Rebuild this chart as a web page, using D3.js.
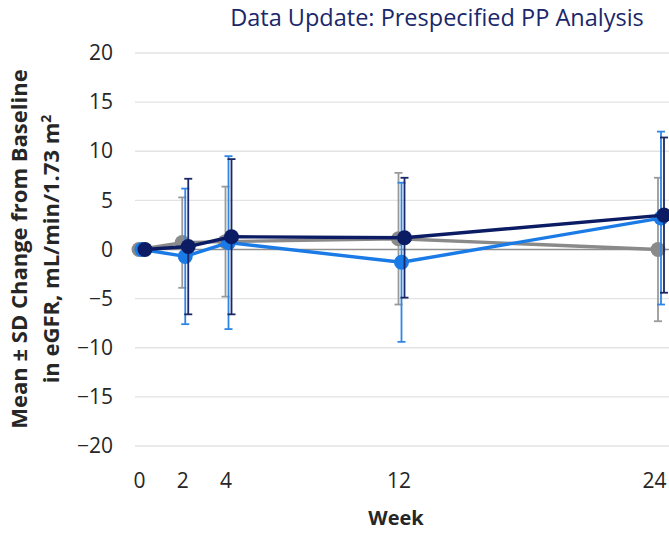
<!DOCTYPE html>
<html>
<head>
<meta charset="utf-8">
<script src="https://cdn.jsdelivr.net/npm/d3@7"></script>
<style>
  html, body { margin: 0; padding: 0; background: #fff; }
  svg { display: block; font-family: "Open Sans", "Noto Sans", sans-serif; }
</style>
</head>
<body>
<svg id="chart" width="669" height="533"></svg>
<script>
// Study weeks
const weeks = [0, 2, 4, 12, 24];
const yTicks = [-20, -15, -10, -5, 0, 5, 10, 15, 20];

// Mean change from baseline in eGFR, by group
const meanA = [0, 0.7, 0.8, 1.1, 0.0];
const sdA   = [0, 4.6, 5.6, 6.7, 7.3];

const meanB = [0, -0.7, 0.7, -1.3, 3.2];
const sdB   = [0, 6.9, 8.8, 8.1, 8.8];

const meanC = [0, 0.3, 1.3, 1.2, 3.5];
const sdC   = [0, 6.9, 7.9, 6.1, 7.9];

const groups = [
  { key: "A", mean: meanA, sd: sdA, line: "#8a8a8a", bar: "#9a9a9a", shift: 0 },
  { key: "B", mean: meanB, sd: sdB, line: "#1a7ae6", bar: "#2f86e6", shift: 3 },
  { key: "C", mean: meanC, sd: sdC, line: "#0b1c64", bar: "#1b2766", shift: 6 }
];

const svg = d3.select("#chart");

const x = d3.scaleLinear().domain([0, 24]).range([139, 658]);
const y = d3.scaleLinear().domain([-20, 20]).range([446, 53]);

// Horizontal gridlines
svg.append("g")
  .selectAll("line")
  .data(yTicks.filter(d => d !== 0))
  .join("line")
  .attr("x1", 135).attr("x2", 669)
  .attr("y1", d => y(d)).attr("y2", d => y(d))
  .attr("stroke", "#e3e3e3").attr("stroke-width", 1.3);

// Zero reference line
svg.append("line")
  .attr("x1", 135).attr("x2", 669)
  .attr("y1", y(0)).attr("y2", y(0))
  .attr("stroke", "#8f8f8f").attr("stroke-width", 1.6);

// Y axis labels
const yAxis = d3.axisLeft(y).tickValues(yTicks).tickSize(0).tickPadding(0).tickFormat(d3.format("d"));
const yg = svg.append("g").attr("transform", "translate(113,0)").call(yAxis);
yg.select(".domain").remove();
yg.selectAll("text")
  .attr("font-size", 21).attr("fill", "#262626")
  .attr("font-family", "Open Sans, sans-serif");

// X axis labels (the last one is kept inside the right edge)
const xAxis = d3.axisBottom(x).tickValues(weeks).tickSize(0).tickPadding(0).tickFormat(d3.format("d"));
const xg = svg.append("g").attr("transform", "translate(0,473)").call(xAxis);
xg.select(".domain").remove();
xg.selectAll("text")
  .attr("font-size", 21).attr("fill", "#262626")
  .attr("font-family", "Open Sans, sans-serif")
  .attr("y", 0)
  .attr("dy", "0.72em")
  .attr("dx", d => d === weeks[weeks.length - 1] ? -4 : 0);

// Error bars, lines and markers for each group
const line = d3.line();
groups.forEach(g => {
  const pts = weeks.map((w, i) => ({ w, m: g.mean[i], s: g.sd[i], px: x(w) + g.shift }));
  const layer = svg.append("g");

  const eb = layer.append("g")
    .selectAll("g")
    .data(pts.filter(p => p.s > 0))
    .join("g");
  eb.append("line")
    .attr("x1", p => p.px).attr("x2", p => p.px)
    .attr("y1", p => y(p.m + p.s)).attr("y2", p => y(p.m - p.s))
    .attr("stroke", g.bar).attr("stroke-width", 1.8);
  [1, -1].forEach(sign => {
    eb.append("line")
      .attr("x1", p => p.px - 4).attr("x2", p => p.px + 4)
      .attr("y1", p => y(p.m + sign * p.s)).attr("y2", p => y(p.m + sign * p.s))
      .attr("stroke", g.bar).attr("stroke-width", 1.8);
  });

  layer.append("path")
    .attr("d", line(pts.map(p => [p.px, y(p.m)])))
    .attr("fill", "none").attr("stroke", g.line).attr("stroke-width", 3.4)
    .attr("stroke-linejoin", "round");

  layer.append("g")
    .selectAll("circle")
    .data(pts)
    .join("circle")
    .attr("cx", p => p.px).attr("cy", p => y(p.m))
    .attr("r", 7.5).attr("fill", g.line);
});

// Title
svg.append("text")
  .attr("x", 437).attr("y", 26)
  .attr("text-anchor", "middle")
  .attr("font-size", 23.5).attr("fill", "#1a276a")
  .attr("font-family", "Open Sans, sans-serif")
  .text("Data Update: Prespecified PP Analysis");

// Axis titles
svg.append("text")
  .attr("x", 396).attr("y", 525)
  .attr("text-anchor", "middle")
  .attr("font-size", 20).attr("font-weight", "bold").attr("fill", "#262626")
  .text("Week");

const yt = svg.append("text")
  .attr("transform", "translate(27,249) rotate(-90)")
  .attr("text-anchor", "middle")
  .attr("font-size", 22).attr("font-weight", "bold").attr("fill", "#262626");
yt.append("tspan").attr("x", 0).attr("y", 0).text("Mean \u00b1 SD Change from Baseline");
const l2 = yt.append("tspan").attr("x", 0).attr("y", 32);
l2.append("tspan").text("in eGFR, mL/min/1.73 m");
l2.append("tspan").attr("dy", -8).attr("font-size", 14).text("2");
</script>
</body>
</html>
